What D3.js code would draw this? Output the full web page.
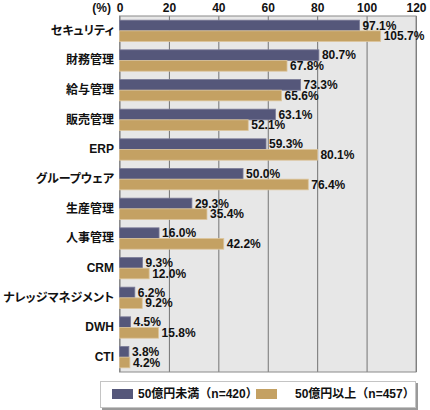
<!DOCTYPE html>
<html>
<head>
<meta charset="utf-8">
<script src="https://cdn.jsdelivr.net/npm/d3@7"></script>
<style>
  body { margin: 0; background: #fff; }
  svg text { font-family: "Liberation Sans", Arial, "Noto Sans CJK JP", sans-serif; font-weight: bold; }
  .cjk { font-feature-settings: "palt"; }
</style>
</head>
<body>
<div id="chart"></div>
<script>
// survey shares (%), two company-size groups
var categories = ["セキュリティ", "財務管理", "給与管理", "販売管理", "ERP", "グループウェア",
                  "生産管理", "人事管理", "CRM", "ナレッジマネジメント", "DWH", "CTI"];
var seriesNames = ["50億円未満（n=420）", "50億円以上（n=457）"];
var under50 = [97.1, 80.7, 73.3, 63.1, 59.3, 50.0, 29.3, 16.0, 9.3, 6.2, 4.5, 3.8];
var over50 = [105.7, 67.8, 65.6, 52.1, 80.1, 76.4, 35.4, 42.2, 12.0, 9.2, 15.8, 4.2];
var xTicks = [0, 20, 40, 60, 80, 100, 120];

var colors = ["#55577a", "#c4a163"];
var strokes = ["#7b7c98", "#dcc59c"];

var width = 430, height = 410;
var margin = {top: 16, right: 14, bottom: 38, left: 119.5};
var plotW = width - margin.left - margin.right,
    plotH = height - margin.top - margin.bottom;

var svg = d3.select('#chart').append('svg')
    .attr('width', width)
    .attr('height', height);

var x = d3.scaleLinear()
    .domain([0, 120])
    .range([0, plotW]);

var y = d3.scaleBand()
    .domain(categories)
    .range([0, plotH])
    .paddingInner(0.28)
    .paddingOuter(0.14);

var ySub = d3.scaleBand()
    .domain([0, 1])
    .range([0, y.bandwidth()]);

var g = svg.append('g')
    .attr('transform', 'translate(' + margin.left + ',' + margin.top + ')');

// plot background
g.append('rect')
    .attr('width', plotW)
    .attr('height', plotH)
    .attr('fill', '#e7e7e7');

// grid lines
var grid = g.append('g')
    .call(d3.axisTop(x).tickValues(xTicks).tickSize(-plotH).tickFormat(''));
grid.select('.domain').remove();
grid.selectAll('line').attr('stroke', '#747474').attr('stroke-width', 1);

// plot frame
g.append('rect')
    .attr('width', plotW)
    .attr('height', plotH)
    .attr('fill', 'none')
    .attr('stroke', '#8a8a8a')
    .attr('stroke-width', 1);

// tick labels on top
var ax = g.append('g')
    .call(d3.axisTop(x).tickValues(xTicks).tickSize(0).tickPadding(4));
ax.select('.domain').remove();
ax.selectAll('text')
    .attr('font-size', 12)
    .attr('fill', '#111')
    .style('font-family', '"Liberation Sans", Arial, sans-serif')
    .style('font-weight', 'bold');

svg.append('text')
    .attr('x', 111)
    .attr('y', 12)
    .attr('text-anchor', 'end')
    .attr('font-size', 12)
    .attr('fill', '#111')
    .text('(%)');

// category labels
var yAxis = g.append('g')
    .call(d3.axisLeft(y).tickSize(0).tickPadding(5.5));
yAxis.select('.domain').remove();
yAxis.selectAll('text')
    .attr('class', 'cjk')
    .attr('font-size', 12)
    .attr('fill', '#111')
    .style('font-family', '"Liberation Sans", Arial, "Noto Sans CJK JP", sans-serif')
    .style('font-weight', 'bold');

// bars + value labels
var series = [under50, over50];
series.forEach(function(values, s) {
  var rows = categories.map(function(c, i) { return {cat: c, v: values[i]}; });

  g.selectAll('rect.s' + s).data(rows)
    .enter().append('rect')
      .attr('class', 's' + s)
      .attr('x', 0)
      .attr('y', function(d) { return y(d.cat) + ySub(s); })
      .attr('width', function(d) { return x(d.v); })
      .attr('height', ySub.bandwidth())
      .attr('fill', colors[s])
      .attr('stroke', strokes[s])
      .attr('stroke-width', 0.8);

  g.selectAll('text.l' + s).data(rows)
    .enter().append('text')
      .attr('class', 'l' + s)
      .attr('x', function(d) { return x(d.v) + 3; })
      .attr('y', function(d) { return y(d.cat) + ySub(s) + ySub.bandwidth() / 2; })
      .attr('dy', '0.36em')
      .attr('font-size', 12)
      .attr('fill', '#111')
      .text(function(d) { return d.v.toFixed(1) + '%'; });
});

// legend
var lg = svg.append('g').attr('transform', 'translate(100,381)');
lg.append('rect')
    .attr('x', 2).attr('y', 2)
    .attr('width', 316).attr('height', 27)
    .attr('fill', '#9a9a9a');
lg.append('rect')
    .attr('x', 0.5).attr('y', 0.5)
    .attr('width', 315).attr('height', 26)
    .attr('fill', '#fff')
    .attr('stroke', '#c4c4c4');

var legendX = [12, 156], legendTextX = [38, 195];
seriesNames.forEach(function(name, s) {
  lg.append('rect')
      .attr('x', legendX[s]).attr('y', 8)
      .attr('width', 21).attr('height', 10)
      .attr('fill', colors[s]);
  lg.append('text')
      .attr('x', legendTextX[s]).attr('y', 13)
      .attr('dy', '0.36em')
      .attr('font-size', 12)
      .attr('fill', '#111')
      .text(name);
});
</script>
</body>
</html>
